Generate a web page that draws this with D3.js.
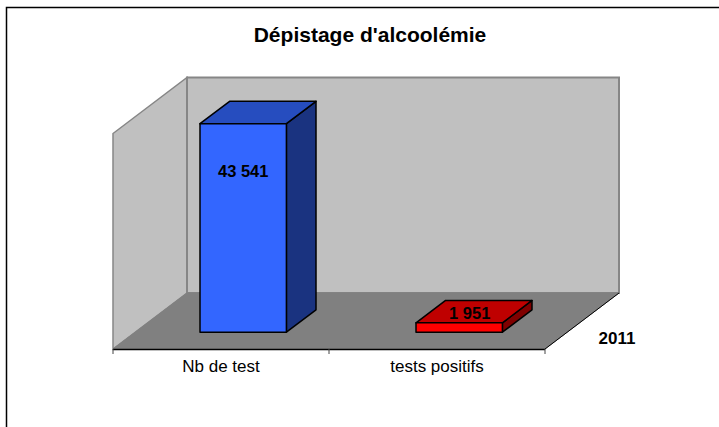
<!DOCTYPE html>
<html>
<head>
<meta charset="utf-8">
<script src="https://cdn.jsdelivr.net/npm/d3@7"></script>
<style>
  html, body { margin: 0; padding: 0; background: #fff; }
  text { font-family: "Liberation Sans", Arial, sans-serif; fill: #000; }
</style>
</head>
<body>
<div id="main"></div>
<script>
const categories = ['Nb de test', 'tests positifs'];
const values = [43541, 1951];
const valueLabels = ['43 541', '1 951'];
const seriesName = '2011';
const title = "Dépistage d'alcoolémie";

const width = 719, height = 427;
const plot = { left: 113, right: 545, floor: 349, top: 133.5 };
const depth = { dx: 74, dy: -56 };

const svg = d3.select('#main').append('svg')
  .attr('width', width)
  .attr('height', height)
  .style('display', 'block');

const x = d3.scaleBand()
  .domain(categories)
  .range([plot.left, plot.right])
  .paddingInner(0.6)
  .paddingOuter(0.3);

const y = d3.scaleLinear()
  .domain([0, 45000])
  .range([plot.floor, plot.top]);

// position along the depth axis, 0 = front edge of the floor, 1 = back wall
const zx = d3.scaleLinear().domain([0, 1]).range([0, depth.dx]);
const zy = d3.scaleLinear().domain([0, 1]).range([0, depth.dy]);
const zFront = 0.3, zBack = 0.7;

const poly = (pts) => pts.map((p) => p.join(',')).join(' ');

// outer frame: only top and left edges show in the picture
svg.append('path')
  .attr('d', 'M6.5,427V7.5H719')
  .attr('fill', 'none')
  .attr('stroke', '#000')
  .attr('stroke-width', 1.5);

const walls = svg.append('g');
const backX0 = plot.left + zx(1), backX1 = plot.right + zx(1);
const backTop = plot.top + zy(1), backBottom = plot.floor + zy(1);

// left wall
walls.append('polygon')
  .attr('points', poly([[plot.left, plot.floor], [plot.left, plot.top], [backX0, backTop], [backX0, backBottom]]))
  .attr('fill', '#c0c0c0')
  .attr('stroke', '#868686')
  .attr('stroke-width', 1.5);

// back wall
walls.append('polygon')
  .attr('points', poly([[backX0, backTop], [backX1, backTop], [backX1, backBottom], [backX0, backBottom]]))
  .attr('fill', '#c0c0c0')
  .attr('stroke', '#868686')
  .attr('stroke-width', 2);

// floor
walls.append('polygon')
  .attr('points', poly([[plot.left, plot.floor], [plot.right, plot.floor], [backX1, backBottom], [backX0, backBottom]]))
  .attr('fill', '#808080')
  .attr('stroke', '#808080');

// bars
const barColors = [
  { front: '#3366ff', top: '#264dbf', side: '#1a3380' },
  { front: '#ff0000', top: '#bf0000', side: '#800000' }
];

const data = categories.map((c, i) => ({ name: c, value: values[i], label: valueLabels[i], colors: barColors[i] }));

const bars = svg.selectAll('.bar')
  .data(data)
  .enter().append('g')
  .attr('class', 'bar')
  .attr('stroke', '#000')
  .attr('stroke-width', 1.5)
  .attr('stroke-linejoin', 'round');

const bx0 = (d) => x(d.name) + zx(zFront);
const bx1 = (d) => bx0(d) + x.bandwidth();
const by0 = () => y(0) + zy(zFront);
const by1 = (d) => y(d.value) + zy(zFront);
const ox = zx(zBack) - zx(zFront);
const oy = zy(zBack) - zy(zFront);

bars.append('polygon')
  .attr('fill', (d) => d.colors.side)
  .attr('points', (d) => poly([[bx1(d), by0()], [bx1(d), by1(d)], [bx1(d) + ox, by1(d) + oy], [bx1(d) + ox, by0() + oy]]));

bars.append('polygon')
  .attr('fill', (d) => d.colors.top)
  .attr('points', (d) => poly([[bx0(d), by1(d)], [bx1(d), by1(d)], [bx1(d) + ox, by1(d) + oy], [bx0(d) + ox, by1(d) + oy]]));

bars.append('polygon')
  .attr('fill', (d) => d.colors.front)
  .attr('points', (d) => poly([[bx0(d), by0()], [bx1(d), by0()], [bx1(d), by1(d)], [bx0(d), by1(d)]]));

// value labels, the tall bar's sits on the front face, the flat one's on its top
svg.selectAll('.value')
  .data(data)
  .enter().append('text')
  .attr('class', 'value')
  .attr('x', (d, i) => bx0(d) + x.bandwidth() / 2 + (i == 0 ? 0 : 10.5))
  .attr('y', (d, i) => i == 0 ? 177 : 319)
  .attr('text-anchor', 'middle')
  .attr('font-size', 16.5)
  .attr('font-weight', 'bold')
  .text((d) => d.label);

// category axis
const axis = d3.axisBottom(d3.scaleBand().domain(categories).range([plot.left, plot.right]))
  .tickSize(0)
  .tickPadding(11);

const axisG = svg.append('g')
  .attr('transform', 'translate(0,' + plot.floor + ')')
  .call(axis);

axisG.select('.domain').remove();
axisG.selectAll('text')
  .attr('font-size', 17)
  .style('font-family', '"Liberation Sans", Arial, sans-serif');

svg.append('line')
  .attr('x1', plot.left).attr('x2', plot.right)
  .attr('y1', plot.floor + 0.5).attr('y2', plot.floor + 0.5)
  .attr('stroke', '#000').attr('stroke-width', 1.5);

svg.selectAll('.tick-mark')
  .data([0, 1, 2])
  .enter().append('line')
  .attr('class', 'tick-mark')
  .attr('x1', (d) => plot.left + d * x.step())
  .attr('x2', (d) => plot.left + d * x.step())
  .attr('y1', plot.floor)
  .attr('y2', plot.floor + 5)
  .attr('stroke', '#444');

// depth axis line on the right of the floor
svg.append('line')
  .attr('x1', plot.right).attr('y1', plot.floor)
  .attr('x2', backX1).attr('y2', backBottom)
  .attr('stroke', '#000');

svg.append('text')
  .attr('x', 617)
  .attr('y', 344)
  .attr('text-anchor', 'middle')
  .attr('font-size', 17)
  .attr('font-weight', 'bold')
  .text(seriesName);

svg.append('text')
  .attr('x', 370)
  .attr('y', 42)
  .attr('text-anchor', 'middle')
  .attr('font-size', 21)
  .attr('font-weight', 'bold')
  .text(title);
</script>
</body>
</html>
